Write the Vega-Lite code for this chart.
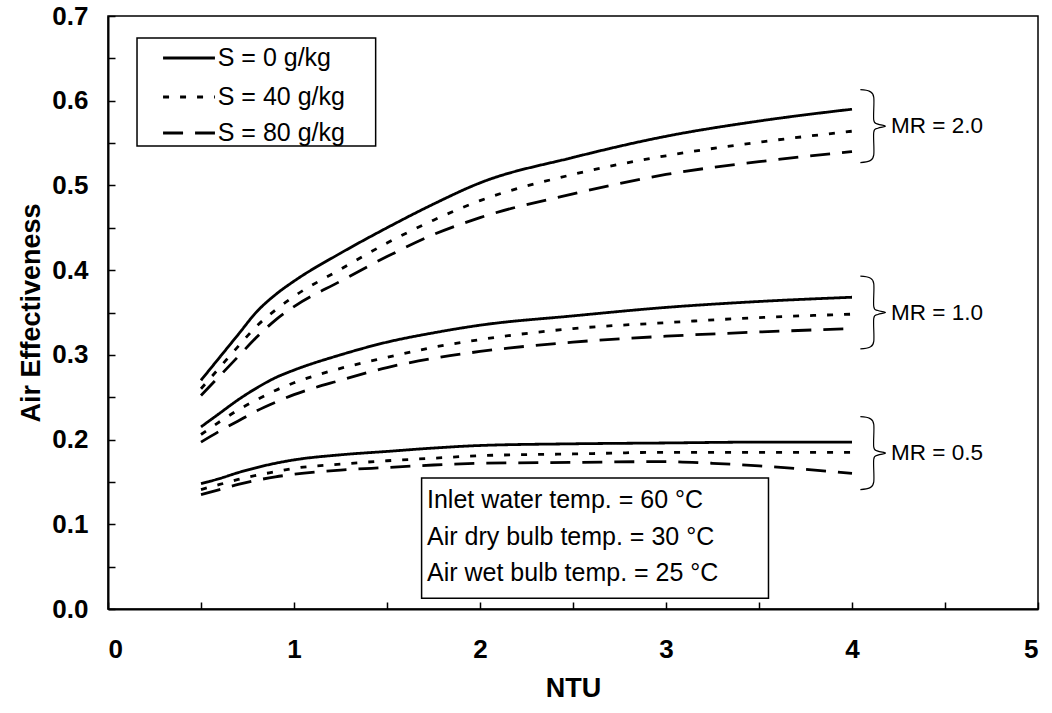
{
  "$schema": "https://vega.github.io/schema/vega-lite/v6.json",
  "width": 930,
  "height": 593,
  "autosize": {"type": "none"},
  "padding": {"left": 108, "top": 16, "right": 14, "bottom": 104},
  "background": "white",
  "config": {
    "font": "Liberation Sans",
    "view": {"stroke": "black", "strokeWidth": 1.5},
    "axis": {
      "domainColor": "black", "domainWidth": 2, "tickColor": "black", "tickWidth": 1.5, "tickSize": -7,
      "labelFont": "Liberation Sans", "labelFontWeight": "bold", "labelFontSize": 26, "labelColor": "black",
      "titleFont": "Liberation Sans", "titleFontWeight": "bold", "titleFontSize": 27, "titleColor": "black",
      "grid": false
    }
  },
  "datasets": {
    "curves": [
      {"MR":"2.0","S":"S = 0 g/kg","NTU":0.5,"eff":0.270},{"MR":"2.0","S":"S = 0 g/kg","NTU":0.6,"eff":0.297},{"MR":"2.0","S":"S = 0 g/kg","NTU":0.7,"eff":0.324},{"MR":"2.0","S":"S = 0 g/kg","NTU":0.8,"eff":0.351},{"MR":"2.0","S":"S = 0 g/kg","NTU":0.9,"eff":0.371},{"MR":"2.0","S":"S = 0 g/kg","NTU":1.0,"eff":0.387},{"MR":"2.0","S":"S = 0 g/kg","NTU":1.25,"eff":0.420},{"MR":"2.0","S":"S = 0 g/kg","NTU":1.5,"eff":0.450},{"MR":"2.0","S":"S = 0 g/kg","NTU":1.75,"eff":0.478},{"MR":"2.0","S":"S = 0 g/kg","NTU":2.0,"eff":0.503},{"MR":"2.0","S":"S = 0 g/kg","NTU":2.5,"eff":0.533},{"MR":"2.0","S":"S = 0 g/kg","NTU":3.0,"eff":0.558},{"MR":"2.0","S":"S = 0 g/kg","NTU":3.5,"eff":0.576},{"MR":"2.0","S":"S = 0 g/kg","NTU":4.0,"eff":0.590},
      {"MR":"2.0","S":"S = 40 g/kg","NTU":0.5,"eff":0.260},{"MR":"2.0","S":"S = 40 g/kg","NTU":0.6,"eff":0.285},{"MR":"2.0","S":"S = 40 g/kg","NTU":0.7,"eff":0.310},{"MR":"2.0","S":"S = 40 g/kg","NTU":0.8,"eff":0.334},{"MR":"2.0","S":"S = 40 g/kg","NTU":0.9,"eff":0.353},{"MR":"2.0","S":"S = 40 g/kg","NTU":1.0,"eff":0.369},{"MR":"2.0","S":"S = 40 g/kg","NTU":1.25,"eff":0.401},{"MR":"2.0","S":"S = 40 g/kg","NTU":1.5,"eff":0.432},{"MR":"2.0","S":"S = 40 g/kg","NTU":1.75,"eff":0.459},{"MR":"2.0","S":"S = 40 g/kg","NTU":2.0,"eff":0.482},{"MR":"2.0","S":"S = 40 g/kg","NTU":2.5,"eff":0.513},{"MR":"2.0","S":"S = 40 g/kg","NTU":3.0,"eff":0.535},{"MR":"2.0","S":"S = 40 g/kg","NTU":3.5,"eff":0.551},{"MR":"2.0","S":"S = 40 g/kg","NTU":4.0,"eff":0.564},
      {"MR":"2.0","S":"S = 80 g/kg","NTU":0.5,"eff":0.252},{"MR":"2.0","S":"S = 80 g/kg","NTU":0.6,"eff":0.275},{"MR":"2.0","S":"S = 80 g/kg","NTU":0.7,"eff":0.298},{"MR":"2.0","S":"S = 80 g/kg","NTU":0.8,"eff":0.321},{"MR":"2.0","S":"S = 80 g/kg","NTU":0.9,"eff":0.341},{"MR":"2.0","S":"S = 80 g/kg","NTU":1.0,"eff":0.357},{"MR":"2.0","S":"S = 80 g/kg","NTU":1.25,"eff":0.387},{"MR":"2.0","S":"S = 80 g/kg","NTU":1.5,"eff":0.416},{"MR":"2.0","S":"S = 80 g/kg","NTU":1.75,"eff":0.442},{"MR":"2.0","S":"S = 80 g/kg","NTU":2.0,"eff":0.462},{"MR":"2.0","S":"S = 80 g/kg","NTU":2.5,"eff":0.490},{"MR":"2.0","S":"S = 80 g/kg","NTU":3.0,"eff":0.513},{"MR":"2.0","S":"S = 80 g/kg","NTU":3.5,"eff":0.528},{"MR":"2.0","S":"S = 80 g/kg","NTU":4.0,"eff":0.540},
      {"MR":"1.0","S":"S = 0 g/kg","NTU":0.5,"eff":0.215},{"MR":"1.0","S":"S = 0 g/kg","NTU":0.6,"eff":0.231},{"MR":"1.0","S":"S = 0 g/kg","NTU":0.7,"eff":0.247},{"MR":"1.0","S":"S = 0 g/kg","NTU":0.8,"eff":0.261},{"MR":"1.0","S":"S = 0 g/kg","NTU":0.9,"eff":0.273},{"MR":"1.0","S":"S = 0 g/kg","NTU":1.0,"eff":0.282},{"MR":"1.0","S":"S = 0 g/kg","NTU":1.25,"eff":0.300},{"MR":"1.0","S":"S = 0 g/kg","NTU":1.5,"eff":0.315},{"MR":"1.0","S":"S = 0 g/kg","NTU":1.75,"eff":0.326},{"MR":"1.0","S":"S = 0 g/kg","NTU":2.0,"eff":0.335},{"MR":"1.0","S":"S = 0 g/kg","NTU":2.5,"eff":0.346},{"MR":"1.0","S":"S = 0 g/kg","NTU":3.0,"eff":0.356},{"MR":"1.0","S":"S = 0 g/kg","NTU":3.5,"eff":0.363},{"MR":"1.0","S":"S = 0 g/kg","NTU":4.0,"eff":0.368},
      {"MR":"1.0","S":"S = 40 g/kg","NTU":0.5,"eff":0.206},{"MR":"1.0","S":"S = 40 g/kg","NTU":0.6,"eff":0.221},{"MR":"1.0","S":"S = 40 g/kg","NTU":0.7,"eff":0.235},{"MR":"1.0","S":"S = 40 g/kg","NTU":0.8,"eff":0.247},{"MR":"1.0","S":"S = 40 g/kg","NTU":0.9,"eff":0.258},{"MR":"1.0","S":"S = 40 g/kg","NTU":1.0,"eff":0.267},{"MR":"1.0","S":"S = 40 g/kg","NTU":1.25,"eff":0.284},{"MR":"1.0","S":"S = 40 g/kg","NTU":1.5,"eff":0.297},{"MR":"1.0","S":"S = 40 g/kg","NTU":1.75,"eff":0.309},{"MR":"1.0","S":"S = 40 g/kg","NTU":2.0,"eff":0.318},{"MR":"1.0","S":"S = 40 g/kg","NTU":2.5,"eff":0.331},{"MR":"1.0","S":"S = 40 g/kg","NTU":3.0,"eff":0.338},{"MR":"1.0","S":"S = 40 g/kg","NTU":3.5,"eff":0.344},{"MR":"1.0","S":"S = 40 g/kg","NTU":4.0,"eff":0.348},
      {"MR":"1.0","S":"S = 80 g/kg","NTU":0.5,"eff":0.197},{"MR":"1.0","S":"S = 80 g/kg","NTU":0.6,"eff":0.210},{"MR":"1.0","S":"S = 80 g/kg","NTU":0.7,"eff":0.222},{"MR":"1.0","S":"S = 80 g/kg","NTU":0.8,"eff":0.234},{"MR":"1.0","S":"S = 80 g/kg","NTU":0.9,"eff":0.244},{"MR":"1.0","S":"S = 80 g/kg","NTU":1.0,"eff":0.253},{"MR":"1.0","S":"S = 80 g/kg","NTU":1.25,"eff":0.270},{"MR":"1.0","S":"S = 80 g/kg","NTU":1.5,"eff":0.285},{"MR":"1.0","S":"S = 80 g/kg","NTU":1.75,"eff":0.296},{"MR":"1.0","S":"S = 80 g/kg","NTU":2.0,"eff":0.304},{"MR":"1.0","S":"S = 80 g/kg","NTU":2.5,"eff":0.315},{"MR":"1.0","S":"S = 80 g/kg","NTU":3.0,"eff":0.322},{"MR":"1.0","S":"S = 80 g/kg","NTU":3.5,"eff":0.327},{"MR":"1.0","S":"S = 80 g/kg","NTU":4.0,"eff":0.331},
      {"MR":"0.5","S":"S = 0 g/kg","NTU":0.5,"eff":0.148},{"MR":"0.5","S":"S = 0 g/kg","NTU":0.6,"eff":0.154},{"MR":"0.5","S":"S = 0 g/kg","NTU":0.7,"eff":0.161},{"MR":"0.5","S":"S = 0 g/kg","NTU":0.8,"eff":0.167},{"MR":"0.5","S":"S = 0 g/kg","NTU":0.9,"eff":0.172},{"MR":"0.5","S":"S = 0 g/kg","NTU":1.0,"eff":0.176},{"MR":"0.5","S":"S = 0 g/kg","NTU":1.25,"eff":0.182},{"MR":"0.5","S":"S = 0 g/kg","NTU":1.5,"eff":0.186},{"MR":"0.5","S":"S = 0 g/kg","NTU":1.75,"eff":0.190},{"MR":"0.5","S":"S = 0 g/kg","NTU":2.0,"eff":0.193},{"MR":"0.5","S":"S = 0 g/kg","NTU":2.5,"eff":0.195},{"MR":"0.5","S":"S = 0 g/kg","NTU":3.0,"eff":0.196},{"MR":"0.5","S":"S = 0 g/kg","NTU":3.5,"eff":0.197},{"MR":"0.5","S":"S = 0 g/kg","NTU":4.0,"eff":0.197},
      {"MR":"0.5","S":"S = 40 g/kg","NTU":0.5,"eff":0.141},{"MR":"0.5","S":"S = 40 g/kg","NTU":0.6,"eff":0.147},{"MR":"0.5","S":"S = 40 g/kg","NTU":0.7,"eff":0.153},{"MR":"0.5","S":"S = 40 g/kg","NTU":0.8,"eff":0.158},{"MR":"0.5","S":"S = 40 g/kg","NTU":0.9,"eff":0.162},{"MR":"0.5","S":"S = 40 g/kg","NTU":1.0,"eff":0.166},{"MR":"0.5","S":"S = 40 g/kg","NTU":1.25,"eff":0.171},{"MR":"0.5","S":"S = 40 g/kg","NTU":1.5,"eff":0.175},{"MR":"0.5","S":"S = 40 g/kg","NTU":1.75,"eff":0.178},{"MR":"0.5","S":"S = 40 g/kg","NTU":2.0,"eff":0.181},{"MR":"0.5","S":"S = 40 g/kg","NTU":2.5,"eff":0.183},{"MR":"0.5","S":"S = 40 g/kg","NTU":3.0,"eff":0.185},{"MR":"0.5","S":"S = 40 g/kg","NTU":3.5,"eff":0.185},{"MR":"0.5","S":"S = 40 g/kg","NTU":4.0,"eff":0.185},
      {"MR":"0.5","S":"S = 80 g/kg","NTU":0.5,"eff":0.135},{"MR":"0.5","S":"S = 80 g/kg","NTU":0.6,"eff":0.141},{"MR":"0.5","S":"S = 80 g/kg","NTU":0.7,"eff":0.147},{"MR":"0.5","S":"S = 80 g/kg","NTU":0.8,"eff":0.152},{"MR":"0.5","S":"S = 80 g/kg","NTU":0.9,"eff":0.156},{"MR":"0.5","S":"S = 80 g/kg","NTU":1.0,"eff":0.159},{"MR":"0.5","S":"S = 80 g/kg","NTU":1.25,"eff":0.164},{"MR":"0.5","S":"S = 80 g/kg","NTU":1.5,"eff":0.167},{"MR":"0.5","S":"S = 80 g/kg","NTU":1.75,"eff":0.170},{"MR":"0.5","S":"S = 80 g/kg","NTU":2.0,"eff":0.172},{"MR":"0.5","S":"S = 80 g/kg","NTU":2.5,"eff":0.173},{"MR":"0.5","S":"S = 80 g/kg","NTU":3.0,"eff":0.174},{"MR":"0.5","S":"S = 80 g/kg","NTU":3.25,"eff":0.172},{"MR":"0.5","S":"S = 80 g/kg","NTU":3.5,"eff":0.169},{"MR":"0.5","S":"S = 80 g/kg","NTU":4.0,"eff":0.160}
    ],
    "braces": [
      {"MR":"2.0","i":1,"NTU":4.045,"eff":0.613},{"MR":"2.0","i":2,"NTU":4.095,"eff":0.611},{"MR":"2.0","i":3,"NTU":4.117,"eff":0.604},{"MR":"2.0","i":4,"NTU":4.117,"eff":0.577},{"MR":"2.0","i":5,"NTU":4.139,"eff":0.5724},{"MR":"2.0","i":6,"NTU":4.180,"eff":0.570},{"MR":"2.0","i":7,"NTU":4.139,"eff":0.5676},{"MR":"2.0","i":8,"NTU":4.117,"eff":0.563},{"MR":"2.0","i":9,"NTU":4.117,"eff":0.536},{"MR":"2.0","i":10,"NTU":4.095,"eff":0.529},{"MR":"2.0","i":11,"NTU":4.045,"eff":0.527},
      {"MR":"1.0","i":1,"NTU":4.045,"eff":0.393},{"MR":"1.0","i":2,"NTU":4.095,"eff":0.391},{"MR":"1.0","i":3,"NTU":4.117,"eff":0.384},{"MR":"1.0","i":4,"NTU":4.117,"eff":0.357},{"MR":"1.0","i":5,"NTU":4.139,"eff":0.3524},{"MR":"1.0","i":6,"NTU":4.180,"eff":0.350},{"MR":"1.0","i":7,"NTU":4.139,"eff":0.3476},{"MR":"1.0","i":8,"NTU":4.117,"eff":0.343},{"MR":"1.0","i":9,"NTU":4.117,"eff":0.316},{"MR":"1.0","i":10,"NTU":4.095,"eff":0.309},{"MR":"1.0","i":11,"NTU":4.045,"eff":0.307},
      {"MR":"0.5","i":1,"NTU":4.045,"eff":0.227},{"MR":"0.5","i":2,"NTU":4.095,"eff":0.225},{"MR":"0.5","i":3,"NTU":4.117,"eff":0.218},{"MR":"0.5","i":4,"NTU":4.117,"eff":0.191},{"MR":"0.5","i":5,"NTU":4.139,"eff":0.1864},{"MR":"0.5","i":6,"NTU":4.180,"eff":0.184},{"MR":"0.5","i":7,"NTU":4.139,"eff":0.1816},{"MR":"0.5","i":8,"NTU":4.117,"eff":0.177},{"MR":"0.5","i":9,"NTU":4.117,"eff":0.150},{"MR":"0.5","i":10,"NTU":4.095,"eff":0.143},{"MR":"0.5","i":11,"NTU":4.045,"eff":0.141}
    ],
    "mrlabels": [
      {"label":"MR = 2.0","NTU":4.21,"eff":0.570},
      {"label":"MR = 1.0","NTU":4.21,"eff":0.350},
      {"label":"MR = 0.5","NTU":4.21,"eff":0.184}
    ],
    "boxes": [
      {"box":"legend","x1":0.156,"x2":1.439,"y1":0.5465,"y2":0.674},
      {"box":"notes","x1":1.686,"x2":3.551,"y1":0.0126,"y2":0.1545}
    ],
    "legendlines": [
      {"S":"S = 0 g/kg","NTU":0.296,"eff":0.6504},{"S":"S = 0 g/kg","NTU":0.575,"eff":0.6504},
      {"S":"S = 40 g/kg","NTU":0.296,"eff":0.6044},{"S":"S = 40 g/kg","NTU":0.575,"eff":0.6044},
      {"S":"S = 80 g/kg","NTU":0.296,"eff":0.5619},{"S":"S = 80 g/kg","NTU":0.575,"eff":0.5619}
    ],
    "texts": [
      {"text":"S = 0 g/kg","NTU":0.59,"eff":0.6504},
      {"text":"S = 40 g/kg","NTU":0.59,"eff":0.6044},
      {"text":"S = 80 g/kg","NTU":0.59,"eff":0.5619},
      {"text":"Inlet water temp. = 60 °C","NTU":1.715,"eff":0.1288},
      {"text":"Air dry bulb temp. = 30 °C","NTU":1.715,"eff":0.0855},
      {"text":"Air wet bulb temp. = 25 °C","NTU":1.715,"eff":0.0426}
    ]
  },
  "layer": [
    {
      "data": {"name": "boxes"},
      "mark": {"type": "rect", "fill": "white", "stroke": "black", "strokeWidth": 1.5},
      "encoding": {
        "x": {"field": "x1", "type": "quantitative", "scale": {"domain": [0, 5], "nice": false},
          "axis": {"title": "NTU", "values": [0,0.5,1,1.5,2,2.5,3,3.5,4,4.5,5], "labelExpr": "datum.value % 1 === 0 ? format(datum.value, 'd') : ''", "labelPadding": 34, "titlePadding": 13}},
        "x2": {"field": "x2"},
        "y": {"field": "y1", "type": "quantitative", "scale": {"domain": [0, 0.7], "nice": false},
          "axis": {"title": "Air Effectiveness", "values": [0,0.05,0.1,0.15,0.2,0.25,0.3,0.35,0.4,0.45,0.5,0.55,0.6,0.65,0.7], "labelExpr": "abs(datum.value*10 - round(datum.value*10)) < 0.001 ? format(datum.value, '.1f') : ''", "labelPadding": 27, "titlePadding": 6}},
        "y2": {"field": "y2"}
      }
    },
    {
      "data": {"name": "curves"},
      "mark": {"type": "line", "color": "black", "strokeWidth": 2.8, "interpolate": "monotone"},
      "encoding": {
        "x": {"field": "NTU", "type": "quantitative"},
        "y": {"field": "eff", "type": "quantitative"},
        "strokeDash": {"field": "S", "type": "nominal",
          "scale": {"domain": ["S = 0 g/kg", "S = 40 g/kg", "S = 80 g/kg"], "range": [[1, 0], [6, 11], [20, 12]]},
          "legend": null},
        "detail": {"field": "MR", "type": "nominal"}
      }
    },
    {
      "data": {"name": "legendlines"},
      "mark": {"type": "line", "color": "black", "strokeWidth": 2.8},
      "encoding": {
        "x": {"field": "NTU", "type": "quantitative"},
        "y": {"field": "eff", "type": "quantitative"},
        "strokeDash": {"field": "S", "type": "nominal", "legend": null}
      }
    },
    {
      "data": {"name": "braces"},
      "mark": {"type": "line", "color": "black", "strokeWidth": 1.2, "interpolate": "cardinal"},
      "encoding": {
        "x": {"field": "NTU", "type": "quantitative"},
        "y": {"field": "eff", "type": "quantitative"},
        "detail": {"field": "MR", "type": "nominal"},
        "order": {"field": "i", "type": "quantitative"}
      }
    },
    {
      "data": {"name": "mrlabels"},
      "mark": {"type": "text", "align": "left", "baseline": "middle", "fontSize": 22.5, "font": "Liberation Sans", "color": "black"},
      "encoding": {
        "x": {"field": "NTU", "type": "quantitative"},
        "y": {"field": "eff", "type": "quantitative"},
        "text": {"field": "label"}
      }
    },
    {
      "data": {"name": "texts"},
      "mark": {"type": "text", "align": "left", "baseline": "middle", "fontSize": 25, "font": "Liberation Sans", "color": "black"},
      "encoding": {
        "x": {"field": "NTU", "type": "quantitative"},
        "y": {"field": "eff", "type": "quantitative"},
        "text": {"field": "text"}
      }
    }
  ]
}
